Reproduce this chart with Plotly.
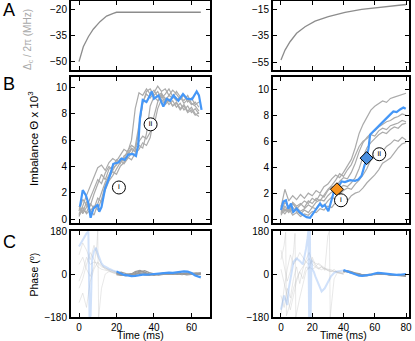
import plotly.graph_objects as go

# ---- panel A: cavity detuning ramps ----
a_left_t = [0, 2.3, 5, 7.6, 11.2, 14.7, 18.3, 20, 65]
a_left_v = [-50, -41.4, -35.6, -31.3, -26.9, -23.7, -22.1, -21.5, -21.5]
a_right_t = [0, 2.6, 5.8, 10, 15.4, 21.8, 30.3, 41, 51.6, 62.3, 70.8, 80]
a_right_v = [-53, -45.6, -39.4, -33.1, -28.2, -24, -20.7, -17.5, -15.2, -13.7, -12.8, -11.6]

# ---- panel B left: imbalance traces (x 1e3) ----
b_left_grid = list(range(0, 66, 2))
b_left_gray = [
    [0.4, 1.0, 1.8, 2.5, 3.2, 3.9, 4.1, 3.7, 4.3, 4.6, 4.4, 4.9, 5.3, 5.1, 6.0, 8.4, 9.6,
     9.4, 9.9, 9.5, 9.8, 9.3, 9.6, 9.0, 9.4, 9.2, 9.7, 9.3, 9.0, 9.4, 8.8, 8.6, 8.2],
    [0.8, 0.5, 1.3, 1.0, 1.9, 2.6, 3.4, 3.0, 3.8, 4.0, 4.5, 4.2, 4.8, 5.0, 5.4, 5.2, 6.8,
     8.9, 9.5, 9.2, 9.6, 10.1, 9.7, 9.9, 9.4, 9.8, 9.5, 9.1, 9.4, 8.9, 9.2, 8.7, 8.9],
    [0.2, 0.9, 0.4, 0.7, 0.3, 1.2, 2.0, 2.8, 3.4, 3.9, 4.1, 4.6, 4.4, 4.9, 5.3, 5.1, 5.6,
     5.4, 6.5, 8.6, 9.3, 9.0, 9.4, 8.8, 9.1, 8.6, 8.9, 8.4, 8.7, 8.2, 8.5, 8.0, 7.8],
    [0.6, 1.5, 1.1, 0.6, 1.0, 0.7, 1.5, 2.6, 3.2, 3.6, 3.4, 4.0, 4.3, 4.7, 4.5, 5.0, 5.3,
     5.8, 5.6, 6.2, 7.8, 8.9, 9.5, 9.2, 8.7, 9.0, 8.5, 8.8, 8.3, 8.6, 8.1, 8.4, 8.0],
    [1.0, 0.4, 0.9, 1.6, 2.4, 3.0, 2.7, 3.5, 4.0, 3.7, 4.2, 4.5, 4.2, 4.6, 5.0, 5.5, 7.2,
     8.8, 9.7, 9.9, 9.4, 9.7, 9.2, 9.5, 9.9, 9.3, 9.0, 9.3, 8.8, 9.1, 8.7, 8.9, 8.5],
    [0.3, 0.7, 0.5, 1.2, 0.8, 1.6, 1.3, 2.2, 2.9, 3.3, 3.8, 4.3, 4.6, 5.2, 5.6, 5.4, 5.9,
     6.3, 6.1, 6.6, 7.1, 8.4, 9.1, 8.7, 9.0, 8.6, 8.8, 8.3, 8.6, 8.1, 8.3, 7.9, 8.1],
]
b_left_blue_t = [0.5, 2, 3.7, 5, 6.2, 7.7, 10, 10.8, 12, 13.9, 16.5, 18.3, 21, 22.7, 24.4,
                 26.3, 28.6, 30.4, 31.6, 32.5, 34, 36, 37.5, 38.8, 40, 42.4, 45, 46.8,
                 48.7, 50.4, 53, 55.5, 57.6, 60.3, 62.8, 64, 65.4]
b_left_blue_v = [0.94, 2.2, 1.8, 1.2, 0.1, 0.8, 1.1, 0.55, 0.9, 2.3, 3.3, 4.2, 4.3, 4.6,
                 4.5, 4.9, 4.95, 4.8, 5.6, 7.65, 9.05, 8.9, 9.3, 9.7, 9.15, 9.4, 8.55,
                 9.15, 9.0, 9.4, 9.0, 9.5, 9.15, 9.1, 9.7, 9.4, 8.3]
b_left_labels = ["i", "ii"]
b_left_label_t = [21.3, 38.2]
b_left_label_v = [2.4, 7.2]

# ---- panel B right ----
b_right_grid = [i * 2.5 for i in range(33)]
b_right_gray = [
    [0.9, 2.3, 1.4, 1.8, 1.5, 1.9, 1.6, 2.0, 1.8, 2.2, 2.0, 2.5, 2.7, 3.1, 3.4, 3.2, 3.6,
     4.1, 4.6, 5.5, 6.6, 7.3, 7.8, 8.4, 8.7, 8.9, 9.1, 9.0, 9.3, 9.4, 9.5, 9.6, 9.7],
    [0.5, 1.3, 0.9, 1.2, 0.8, 1.1, 1.4, 1.2, 1.6, 1.4, 1.9, 1.7, 2.2, 2.5, 2.4, 2.9, 3.2,
     3.1, 3.6, 4.3, 5.2, 5.9, 6.3, 6.6, 6.8, 7.1, 7.3, 7.5, 7.6, 7.8, 7.9, 8.1, 8.0],
    [1.1, 0.6, 1.0, 0.5, 0.9, 0.6, 0.8, 1.1, 0.9, 1.3, 1.5, 1.4, 1.8, 2.1, 2.0, 2.4, 2.6,
     2.5, 2.8, 3.2, 3.9, 4.8, 5.5, 5.9, 6.2, 6.5, 6.7, 6.6, 6.9, 7.1, 7.0, 7.3, 7.4],
    [0.3, 0.8, 0.5, 0.9, 0.6, 0.4, 0.7, 0.5, 0.9, 0.8, 1.2, 1.0, 1.4, 1.7, 1.5, 1.9, 2.2,
     2.4, 2.3, 2.7, 3.0, 3.4, 3.9, 4.6, 5.0, 5.3, 5.2, 5.6, 5.8, 6.1, 6.0, 6.3, 6.1],
    [0.7, 0.4, 0.8, 0.3, 0.5, 0.2, 0.4, 0.3, 0.6, 0.5, 0.8, 0.7, 1.0, 0.9, 1.3, 1.2, 1.5,
     1.4, 1.8, 2.0, 2.1, 2.4, 2.8, 3.1, 3.4, 3.8, 4.3, 4.5, 4.7, 5.1, 5.5, 5.8, 5.9],
    [0.4, 1.0, 0.6, 1.3, 1.0, 1.2, 0.9, 1.4, 1.2, 1.6, 1.4, 1.9, 2.3, 2.6, 3.0, 3.5, 3.3,
     3.8, 4.2, 4.9, 5.6, 6.0, 6.2, 6.5, 6.4, 6.8, 7.0, 6.9, 7.2, 7.3, 7.4, 7.6, 7.5],
]
b_right_blue_t = [0, 1.5, 3.2, 4.7, 6.4, 7.9, 10, 12.2, 14.3, 16.4, 18.6, 20, 22.8, 25,
                  26.4, 28, 30.3, 32.4, 34.1, 35.8, 38.8, 40.9, 44.2, 47.4, 49.5, 51.6,
                  53.3, 54.8, 56, 57, 59, 61.2, 63.4, 65.5, 67.6, 69.8, 71.9, 74, 76.2,
                  78.3, 79.8]
b_right_blue_v = [0.7, 1.35, 1.45, 0.8, 1.2, 0.55, 0.8, 0.5, 0.3, 0.15, 0.1, 0.35, 0.8,
                  1.2, 0.95, 1.1, 0.6, 1.45, 2.2, 2.3, 2.9, 2.85, 3.0, 2.95, 3.05, 3.35,
                  4.05, 4.7, 5.45, 6.5, 6.75, 7.0, 7.25, 7.5, 7.75, 8.05, 8.3, 8.25,
                  8.45, 8.6, 8.5]
b_right_mark_t = [35.8, 54.8]
b_right_mark_v = [2.3, 4.7]
b_right_mark_colors = ["#f7931e", "#4a8fe0"]
b_right_labels = ["i", "ii"]
b_right_label_t = [38.4, 62.9]
b_right_label_v = [1.45, 5.0]

# ---- panel C left: phase (deg) ----
c_left_early_grid = [0, 2, 4, 6, 8, 10, 12, 14, 16, 18, 20]
c_left_early_gray = [
    [-60, -20, 40, 90, 60, 30, 20, 15, 10, 8, 5],
    [80, 130, 100, 60, 120, 70, 40, 25, 15, 10, 5],
    [-120, -80, -140, -30, 20, 50, 35, 20, 15, 5, 0],
    [-30, 10, 70, 40, 50, 45, 30, 25, 20, 15, 8],
]
c_left_wrap_t = [0, 2, 4, 6, 8, 9.5, 10, 10.5, 12, 14, 16, 18, 20]
c_left_wrap_v = [40, 70, 20, -10, 30, 120, 180, -180, -60, 0, 10, 5, 2]
c_left_blue_early_t = [0, 1, 2, 3, 4, 5, 5.6, 6.2, 7, 8, 9, 10, 11, 12, 13, 14, 16, 18, 20]
c_left_blue_early_v = [115, 130, 145, 160, 170, 178, -180, -175, 60, 95, 110, 85, 60, 45,
                       35, 30, 22, 15, 10]
c_left_late_grid = [20 + i * 2.5 for i in range(19)]
c_left_late_gray = [
    [5, 8, 2, -3, 10, 15, 8, 0, -4, 2, 5, -2, 0, 4, 2, -1, 3, 5, 2],
    [2, -2, -5, 0, 6, 12, 5, -3, -2, 0, 3, 1, -2, 0, 3, 2, -2, 0, -3],
    [0, -5, -8, -4, 3, 8, 14, 6, 0, -5, -2, 2, 4, 0, -3, 1, 4, 0, 2],
    [-3, -6, -2, 2, 0, 5, 3, -2, -6, -3, 0, -2, 2, 5, 0, -4, -2, 3, 6],
    [4, 0, -3, -6, -2, 2, -4, -6, -2, 1, 0, 4, 1, -2, 2, 5, 1, -3, -1],
]
c_left_blue_t = [20, 22, 24, 26, 28, 30, 32, 34, 36, 38, 40, 42, 44, 46, 48, 50, 52, 54,
                 56, 58, 60, 62, 64, 65]
c_left_blue_v = [11, 3, -4, -6, -9, -8, -5, -3, -3, -1, 0, 1, 3, 4, 6, 5, 7, 10, 11, 10,
                 4, -6, -12, -14]

# ---- panel C right ----
c_right_early_grid = [i * 2 for i in range(21)]
c_right_early_gray = [
    [-170, -60, 20, 80, 40, 60, 90, 70, 50, 65, 40, 30, 45, 35, 25, 20, 18, 12, 10, 8, 5],
    [20, -40, -100, -150, -90, -30, 10, -20, 30, 20, 70, 40, 25, 30, 20, 15, 10, 20, 8, 5, 2],
    [-90, -140, -60, -100, -20, 30, -40, 20, 60, 90, 55, 45, 40, 30, 22, 18, 15, 10, 6, 3, -2],
]
c_right_wrap1_t = [0, 2, 3, 3.5, 6, 8, 10, 12, 14, 16, 18, 20, 22, 24, 26, 28, 30, 31,
                   31.5, 34, 36, 38, 40]
c_right_wrap1_v = [60, 120, 175, -175, -120, -60, -20, 10, 30, 50, 40, 55, 35, 20, 30, 15,
                   160, 180, -180, -20, 5, 2, 0]
c_right_wrap2_t = [0, 2, 4, 6, 8, 9, 9.5, 12, 14, 16, 18, 20, 22, 24, 26, 28, 30, 32, 34,
                   36, 38, 40]
c_right_wrap2_v = [100, 40, -30, 10, 90, 170, -180, -100, -40, 10, 30, 20, 28, 22, 18, 25,
                   14, 10, 12, 6, 4, 1]
c_right_blue_early_t = [0, 1, 2, 3, 4, 5, 6, 7, 8, 10, 12, 14, 15, 16, 17, 17.5, 18, 18.5,
                        19, 19.5, 20, 21, 22, 24, 26, 28, 30, 32, 34, 36, 38, 40]
c_right_blue_early_v = [-150, -120, -90, -110, -130, -60, -20, 20, 50, 65, 55, 40, 70, 105,
                        150, 180, -180, 180, -180, 60, 20, 10, -10, -45, -73, -60, -35,
                        -10, 5, 11, 13, 15]
c_right_late_grid = [40 + i * 2.5 for i in range(17)]
c_right_late_gray = [
    [10, 12, 8, 5, 0, -3, -2, 0, 2, 0, -1, -3, -2, -5, -6, -8, -10],
    [15, 10, 6, 2, -2, -5, -4, -1, 1, 2, 0, -2, -3, -4, -3, -6, -7],
    [8, 14, 10, 4, 2, -6, -8, -3, 0, -1, 1, -2, -4, -3, -6, -5, -9],
    [12, 8, 3, 0, -4, -8, -6, -2, -3, 0, -2, -1, -5, -3, -4, -7, -4],
]
c_right_blue_t = [40, 42, 44, 46, 48, 50, 52, 54, 56, 58, 60, 62, 64, 66, 68, 70, 72, 74,
                  76, 78, 80]
c_right_blue_v = [17, 12, 6, 2, -3, -7, -8, -7, -5, -2, 2, 5, 4, 2, 0, -1, -3, -4, -3, -1, 0]

# ---------------- figure ----------------
W, H = 415, 341
FONT = "Liberation Sans, Arial, sans-serif"
BLUE = "#4597f7"
GRAY = "#ababab"
FAINT_GRAY = "rgba(190,190,190,0.35)"
FAINT_BLUE = "rgba(120,170,240,0.35)"

fig = go.Figure()


def line(n, x, y, color, width):
    sfx = "" if n == 1 else str(n)
    fig.add_trace(go.Scatter(x=x, y=y, mode="lines", xaxis="x" + sfx, yaxis="y" + sfx,
                             line=dict(color=color, width=width), hoverinfo="skip"))


def circles(n, x, y, labels):
    sfx = "" if n == 1 else str(n)
    fig.add_trace(go.Scatter(x=x, y=y, mode="markers+text", text=labels,
                             textposition="middle center", xaxis="x" + sfx, yaxis="y" + sfx,
                             textfont=dict(size=8, color="black", family=FONT),
                             marker=dict(symbol="circle", size=13, color="white",
                                         line=dict(color="black", width=1))))


# A
line(1, a_left_t, a_left_v, "#8c8c8c", 1.3)
line(2, a_right_t, a_right_v, "#8c8c8c", 1.3)

# B left
for g in b_left_gray:
    line(3, b_left_grid, g, GRAY, 1.2)
line(3, b_left_blue_t, b_left_blue_v, BLUE, 2.2)
circles(3, b_left_label_t, b_left_label_v, b_left_labels)

# B right
for g in b_right_gray:
    line(4, b_right_grid, g, GRAY, 1.2)
line(4, b_right_blue_t, b_right_blue_v, BLUE, 2.2)
fig.add_trace(go.Scatter(x=b_right_mark_t, y=b_right_mark_v, mode="markers", xaxis="x4",
                         yaxis="y4", marker=dict(symbol="diamond", size=10,
                                                 color=b_right_mark_colors,
                                                 line=dict(color="black", width=1))))
circles(4, b_right_label_t, b_right_label_v, b_right_labels)

# C left
for g in c_left_early_gray:
    line(5, c_left_early_grid, g, FAINT_GRAY, 1)
line(5, c_left_wrap_t, c_left_wrap_v, FAINT_GRAY, 1)
line(5, c_left_blue_early_t, c_left_blue_early_v, FAINT_BLUE, 2)
for g in c_left_late_gray:
    line(5, c_left_late_grid, g, "#9a9a9a", 1.2)
line(5, c_left_blue_t, c_left_blue_v, BLUE, 2.2)

# C right
for g in c_right_early_gray:
    line(6, c_right_early_grid, g, FAINT_GRAY, 1)
line(6, c_right_wrap1_t, c_right_wrap1_v, FAINT_GRAY, 1)
line(6, c_right_wrap2_t, c_right_wrap2_v, FAINT_GRAY, 1)
line(6, c_right_blue_early_t, c_right_blue_early_v, FAINT_BLUE, 2)
for g in c_right_late_gray:
    line(6, c_right_late_grid, g, "#9a9a9a", 1.2)
line(6, c_right_blue_t, c_right_blue_v, BLUE, 2.2)


def xdom(a, b):
    return [a / W, b / W]


def ydom(top, bottom):
    return [1 - bottom / H, 1 - top / H]


axis_style = dict(showline=True, linecolor="black", linewidth=2, mirror="ticks",
                  ticks="inside", ticklen=4, tickwidth=1.3, tickcolor="black",
                  showgrid=False, zeroline=False, fixedrange=True, automargin=False,
                  tickfont=dict(family=FONT, size=10, color="black"))

cols = {"L": xdom(71, 210), "R": xdom(273, 409)}
xr = {"L": [-4.27, 69.9], "R": [-5.1, 81.9]}
xt = {"L": [0, 20, 40, 60], "R": [0, 20, 40, 60, 80]}
panels = [
    # n, col, (top, bottom), yrange, yticks, show x labels
    (1, "L", (1, 70), [-54.8, -15], [-20, -35, -50], False),
    (2, "R", (1, 70), [-60.5, -9], [-15, -35, -55], False),
    (3, "L", (77, 223), [-0.3, 10.8], [0, 2, 4, 6, 8, 10], False),
    (4, "R", (77, 223), [-0.3, 10.95], [0, 2, 4, 6, 8, 10], False),
    (5, "L", (231, 317), [-180, 180], [-180, 0, 180], True),
    (6, "R", (231, 317), [-180, 180], [-180, 0, 180], True),
]
lay = {}
for n, c, (top, bot), yr, yt, showx in panels:
    sfx = "" if n == 1 else str(n)
    lay["xaxis" + sfx] = dict(axis_style, domain=cols[c], range=xr[c], tickvals=xt[c],
                              showticklabels=showx, anchor="y" + sfx)
    lay["yaxis" + sfx] = dict(axis_style, domain=ydom(top, bot), range=yr, tickvals=yt,
                              anchor="x" + sfx)


def ann(text, x, y, size, color="black", angle=0, yanchor="middle"):
    return dict(text=text, x=x / W, y=1 - y / H, xref="paper", yref="paper",
                showarrow=False, textangle=angle, xanchor="center", yanchor=yanchor,
                font=dict(family=FONT, size=size, color=color))


annotations = [
    ann("A", 9, 10, 18),
    ann("B", 9, 84, 18),
    ann("C", 9, 241.5, 18),
    ann("Δ<sub>c</sub> / 2π (MHz)", 28, 40, 10, "#a8a8a8", -90),
    ann("Imbalance Θ x 10<sup>3</sup>", 33, 139, 11.5, angle=-90),
    ann("Phase (<sup>o</sup>)", 33, 274.5, 10.5, angle=-90),
    ann("Time (ms)", 140.5, 342.5, 10.5, yanchor="bottom"),
    ann("Time (ms)", 343, 342.5, 10.5, yanchor="bottom"),
]

fig.update_layout(width=W, height=H, margin=dict(l=0, r=0, t=0, b=0, autoexpand=False),
                  paper_bgcolor="white", plot_bgcolor="white", showlegend=False,
                  annotations=annotations, **lay)

# pin the graph to the top-left corner of the page (no default body margin)
pin = ("document.documentElement.style.margin='0';"
       "document.body.style.margin='0';document.body.style.padding='0';"
       "document.body.style.overflow='hidden';"
       "var gd=document.getElementById('{plot_id}');"
       "gd.style.position='fixed';gd.style.top='0px';gd.style.left='0px';")
fig.write_html("out.html", config={"displayModeBar": False}, post_script=pin)
